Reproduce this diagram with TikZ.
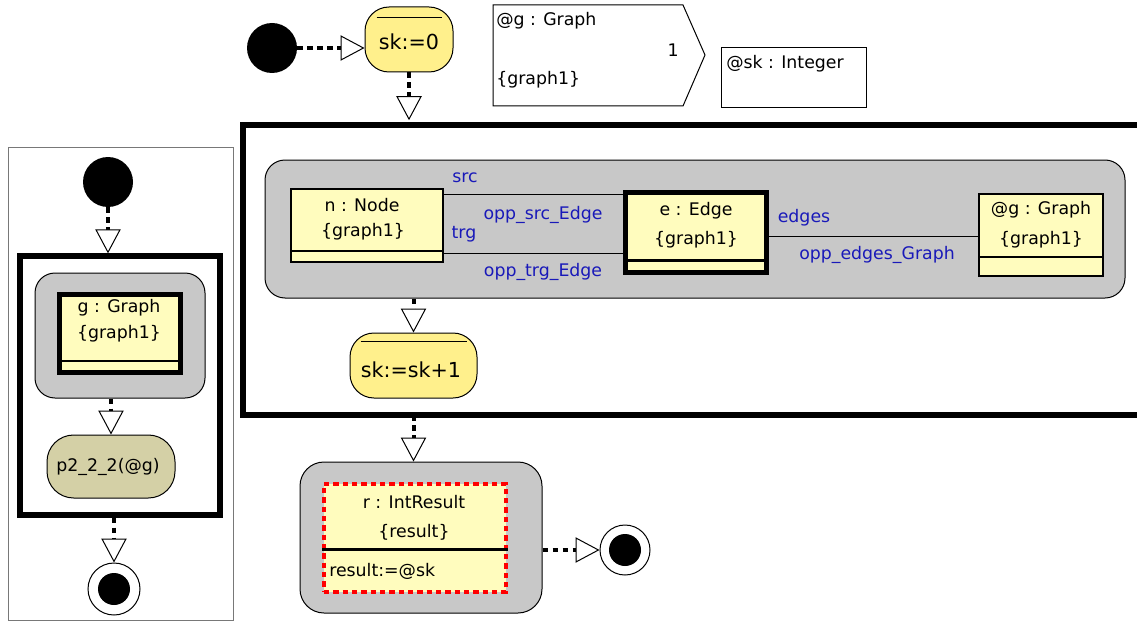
\documentclass[tikz,border=0pt]{standalone}
\usepackage{fontspec}
\setmainfont{DejaVu Sans}
\usetikzlibrary{arrows.meta,fit,calc}
\definecolor{pillyellow}{RGB}{255,240,140}
\definecolor{classyellow}{RGB}{255,252,190}
\definecolor{groupgray}{RGB}{200,200,200}
\definecolor{khaki}{RGB}{212,208,166}
\definecolor{lblblue}{RGB}{25,25,185}
\definecolor{panelgray}{RGB}{120,120,120}
\begin{document}
\begin{tikzpicture}[x=0.75pt,y=-0.75pt,
 every node/.style={inner sep=0pt, font=\fontsize{13}{15}\selectfont},
 flow/.style={line width=3pt, dash pattern=on 4pt off 3.5pt, -{Triangle[fill=white, line width=0.75pt, length=18pt, width=19pt]}},
 startdot/.style={circle, fill=black, minimum size=37.5pt},
 enddot/.style={circle, draw, line width=0.75pt, fill=white, minimum size=38pt},
 endin/.style={circle, fill=black, minimum size=24pt},
 group/.style={draw, line width=0.75pt, fill=groupgray, rounded corners=15pt},
 pill/.style={draw, line width=0.75pt, fill=pillyellow, rounded corners=18pt},
 classbox/.style={draw, line width=1.5pt, fill=classyellow},
 boldclass/.style={draw, line width=3.75pt, fill=classyellow},
 divider/.style={line width=2pt},
 assoc/.style={line width=0.75pt},
 role/.style={text=lblblue},
 frame/.style={draw, line width=4pt},
 pilltext/.style={font=\fontsize{15.5}{17}\selectfont},
]
\useasboundingbox (0,0) rectangle (1137,624);

% ---------- left panel ----------
\node[draw=panelgray, line width=0.75pt, fit={(8,148)(233,620)}] (lpanel) {};
\node[startdot] (lstart) at (108,182) {};
\node[frame, fit={(20,256)(220,515)}] (lbox) {};
\node[group, fit={(35,273)(205,398)}] (lgroup) {};
\node[boldclass, fit={(59.5,294.5)(180.5,372.5)}] (gbox) {};
\draw[divider] ($(gbox.south west)+(0,-14)$) -- ($(gbox.south east)+(0,-14)$);
\node (gname) at (119,308) {g : Graph};
\node (gset) at (119,334) {\{graph1\}};
\node[pill, fill=khaki, rounded corners=20pt, fit={(47,435)(175,498)}] (lpill) {};
\node (lpilltext) at (108,467) {p2\_2\_2(@g)};
\node[enddot, minimum size=39pt] (lend) at (114,589) {};
\node[endin] (lendin) at (lend) {};
\draw[flow] (lstart.south) -- (lstart.south |- lbox.north);
\draw[flow] (lpill.north |- lgroup.south) -- (lpill.north);
\draw[flow] (lend.north |- lbox.south) -- (lend.north);

% ---------- top row ----------
\node[startdot] (mstart) at (272,48) {};
\node[pill, fit={(365,7)(453,72)}] (sk0) {};
\draw[line width=0.75pt] ($(sk0.north west)+(12,11)$) -- ($(sk0.north east)+(-12,11)$);
\node[pilltext] (sk0t) at (409,42) {sk:=0};
\draw[flow] (mstart.east) -- (mstart.east -| sk0.west);

\draw[line width=0.75pt, fill=white] (493,5) -- (683,5) -- (705,55) -- (683,106) -- (493,106) -- cycle;
\node[anchor=west] (pgname) at (496,21) {@g : Graph};
\node[anchor=east] (pgmult) at (679,50) {1};
\node[anchor=west] (pgset) at (496,80) {\{graph1\}};

\node[draw, line width=0.75pt, fit={(721,48)(866,108)}] (skvar) {};
\node[anchor=west] (skvart) at (726,64) {@sk : Integer};

% ---------- big frame ----------
\node[fit={(243,125)(1137,415)}] (bigbox) {};
\draw[line width=4.5pt] (bigbox.north east) -- (bigbox.north west) -- (bigbox.south west) -- (bigbox.south east);
\draw[flow, shorten >=3.4pt] (sk0.south) -- (sk0.south |- bigbox.north);

\node[group, fit={(265,160)(1125,298)}] (mgroup) {};
\node[classbox, fit={(291,189)(443,262)}] (nbox) {};
\draw[divider] ($(nbox.south west)+(0,-12)$) -- ($(nbox.south east)+(0,-12)$);
\node (nname) at (362,205) {n : Node};
\node (nset) at (363,232) {\{graph1\}};

\node[boldclass, fit={(625.5,192.5)(766.5,272.5)}] (ebox) {};
\draw[divider] ($(ebox.south west)+(0,-14.5)$) -- ($(ebox.south east)+(0,-14.5)$);
\node (ename) at (696,211) {e : Edge};
\node (eset) at (696,240) {\{graph1\}};

\node[classbox, fit={(979,194)(1103,276)}] (gvar) {};
\draw[divider] ($(gvar.south west)+(0,-20)$) -- ($(gvar.south east)+(0,-20)$);
\node (gvname) at (1041,210) {@g : Graph};
\node (gvset) at (1041,240) {\{graph1\}};

\coordinate (ysrc) at (0,194);
\coordinate (ytrg) at (0,253);
\coordinate (yedg) at (0,236);
\draw[assoc] (nbox.east |- ysrc) -- (ebox.west |- ysrc);
\draw[assoc] (nbox.east |- ytrg) -- (ebox.west |- ytrg);
\draw[assoc] (ebox.east |- yedg) -- (gvar.west |- yedg);
\node[role] (lsrc) at (465,178) {src};
\node[role] (loppsrc) at (543,215) {opp\_src\_Edge};
\node[role] (ltrg) at (464,234) {trg};
\node[role] (lopptrg) at (543,272) {opp\_trg\_Edge};
\node[role] (ledges) at (804,218) {edges};
\node[role] (loppedges) at (877,255) {opp\_edges\_Graph};

\node[pill, fit={(350,333)(477,398)}] (sk1) {};
\draw[line width=0.75pt] ($(sk1.north west)+(11,9)$) -- ($(sk1.north east)+(-11,9)$);
\node[pilltext] (sk1t) at (411,370) {sk:=sk+1};
\draw[flow] (sk1.north |- mgroup.south) -- (sk1.north);

% ---------- result ----------
\node[group, rounded corners=18pt, fit={(300,462)(542,613)}] (rgroup) {};
\node[fill=classyellow, draw=red, line width=2.5pt, dash pattern=on 4pt off 3pt, fit={(324,484)(506,592)}] (rbox) {};
\draw[divider] ($(rbox.south west)+(0,-44)$) -- ($(rbox.south east)+(0,-44)$);
\node (rname) at (414,502) {r : IntResult};
\node (rset) at (414,532) {\{result\}};
\node[anchor=west] (rexpr) at (329,571) {result:=@sk};
\draw[flow] (bigbox.south -| sk1.north) -- (sk1.north |- rgroup.north);

\node[enddot, minimum size=37.5pt] (mend) at (625,550) {};
\node[endin] (mendin) at (mend) {};
\draw[flow] (rgroup.east |- mend.west) -- (mend.west);
\end{tikzpicture}
\end{document}
